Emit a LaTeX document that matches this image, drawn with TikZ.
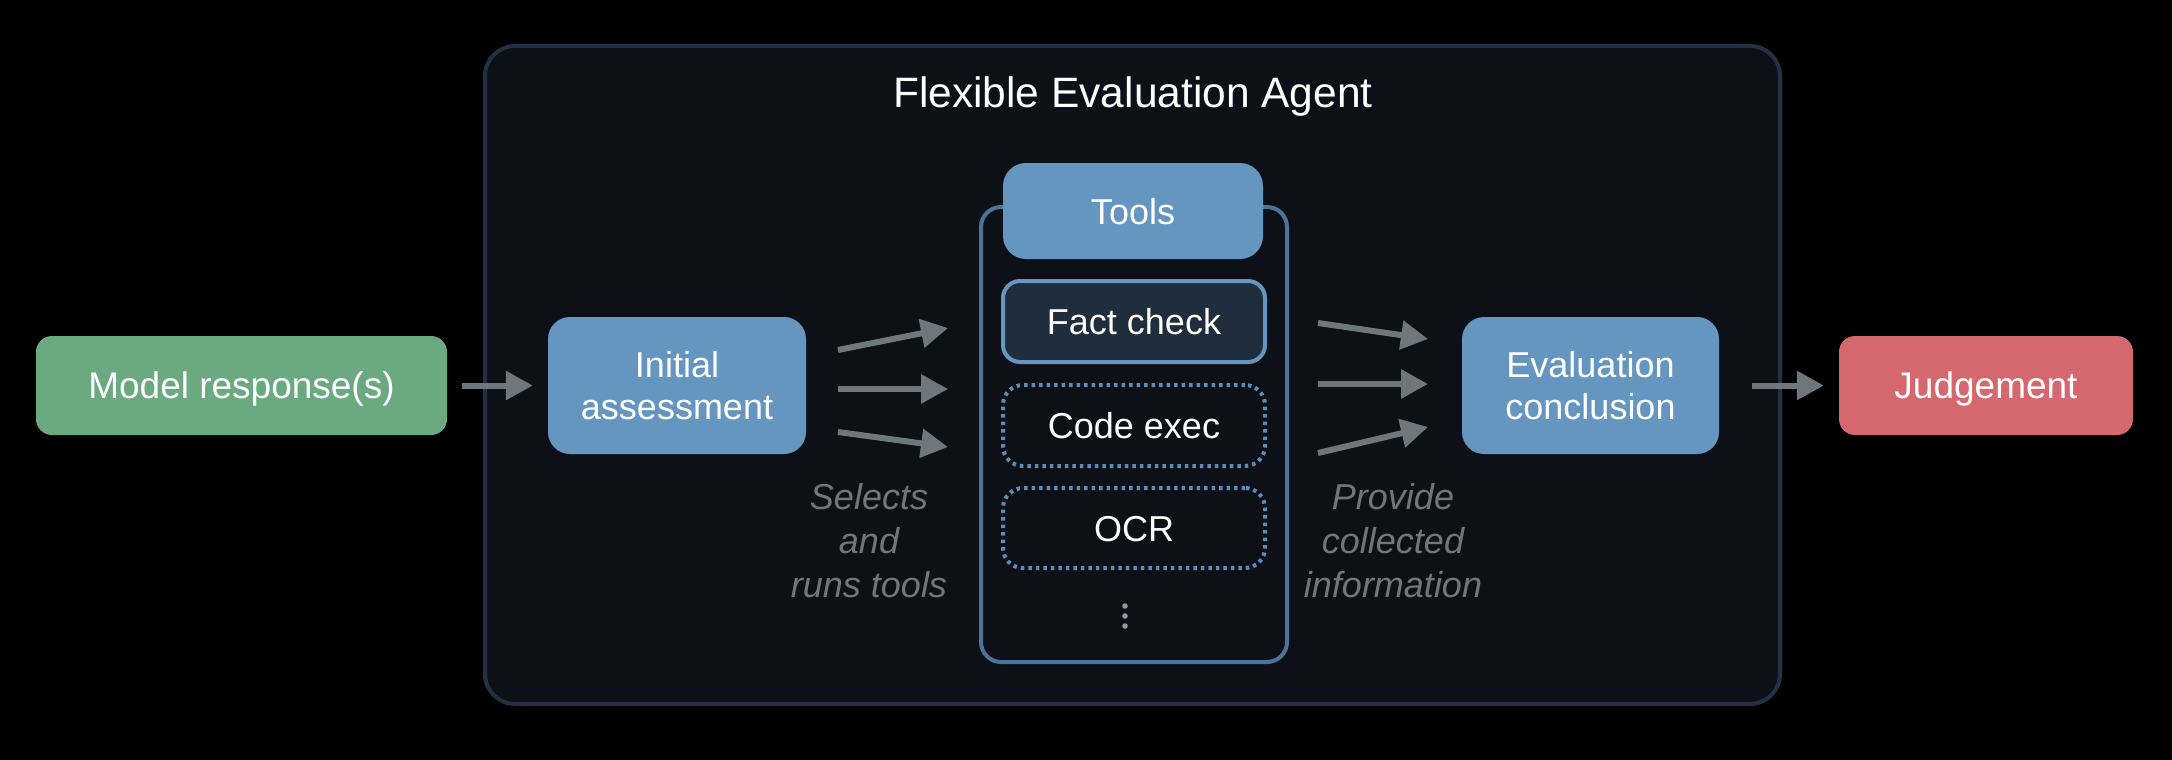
\documentclass[tikz,border=0pt]{standalone}
\usepackage{fontspec}
\setmainfont{Liberation Sans}
\usetikzlibrary{arrows.meta,calc}
\definecolor{bgc}{HTML}{000000}
\definecolor{panelfill}{HTML}{0D1117}
\definecolor{panelline}{HTML}{223243}
\definecolor{greenc}{HTML}{6BAA80}
\definecolor{bluec}{HTML}{6596C0}
\definecolor{redc}{HTML}{D4686E}
\definecolor{arrowc}{HTML}{6E767E}
\definecolor{contline}{HTML}{4C7398}
\definecolor{factfill}{HTML}{1F2D3D}
\definecolor{dotline}{HTML}{5B8DB8}
\definecolor{dotsc}{HTML}{8B9AA6}
\begin{document}
\begin{tikzpicture}[x=1pt,y=-1pt,
  box/.style={rounded corners=#1, inner sep=0pt, align=center, text=white, font=\fontsize{36}{42}\selectfont},
  oneline/.style={text height=26pt, text depth=0pt},
  arr/.style={line width=6pt, arrowc, -{Triangle[length=27pt,width=28pt]}},
  lbl/.style={align=center, text=arrowc, font=\fontsize{36}{44}\selectfont\itshape, inner sep=0pt}
]
\fill[bgc] (0,0) rectangle (2172,760);
\useasboundingbox (0,0) rectangle (2172,760);

% outer panel
\node[rounded corners=30pt, draw=panelline, line width=4pt, fill=panelfill,
  minimum width=1295pt, minimum height=658pt] (agent) at (1132.5,375) {};
\node[text=white, font=\fontsize{42.5}{48}\selectfont, inner sep=0pt, text height=30pt, text depth=0pt] (title) at (1133,92) {Flexible Evaluation Agent};

% outside boxes
\node[box=16pt, oneline, fill=greenc, minimum width=411pt, minimum height=99pt, font=\fontsize{37}{42}\selectfont] (model) at (241.5,385.5) {Model response(s)};
\node[box=16pt, oneline, fill=redc, minimum width=294pt, minimum height=99pt, font=\fontsize{37}{42}\selectfont] (judge) at (1986,385.5) {Judgement};

% inner boxes
\node[box=22pt, fill=bluec, minimum width=258pt, minimum height=137pt] (initial) at (677,385.5) {Initial\\assessment};
\node[box=22pt, fill=bluec, minimum width=257pt, minimum height=137pt] (eval) at (1590.5,385.5) {Evaluation\\conclusion};

% tools container
\node[rounded corners=20pt, draw=contline, line width=4pt, minimum width=306pt, minimum height=455pt] (cont) at (1134,434.5) {};
\node[box=23pt, oneline, fill=bluec, minimum width=260pt, minimum height=96pt] (tools) at (1133,211) {Tools};
\node[box=17pt, oneline, fill=factfill, draw=bluec, line width=4pt, minimum width=262pt, minimum height=81pt] (fact) at (1134,321.5) {Fact check};
\node[box=20pt, oneline, draw=dotline, line width=4pt, dash pattern=on 3.5pt off 4pt, minimum width=262pt, minimum height=81pt] (code) at (1134,425.5) {Code exec};
\node[box=20pt, oneline, draw=dotline, line width=4pt, dash pattern=on 3.5pt off 4pt, minimum width=262pt, minimum height=80pt] (ocr) at (1134,528) {OCR};
\foreach \yy in {606,616,626} \fill[dotsc] (1125,\yy) circle (2.8pt);

% arrows
\draw[arr, shorten <=15pt, shorten >=15pt] (model) -- (initial);
\draw[arr, shorten <=33pt, shorten >=15pt] (eval) -- (judge);

\coordinate (l1s) at (838,350); \coordinate (l1e) at (948,328);
\coordinate (l2s) at (838,389); \coordinate (l2e) at (948,389);
\coordinate (l3s) at (838,432); \coordinate (l3e) at (948,447);
\draw[arr] (l1s) -- (l1e);
\draw[arr] (l2s) -- (l2e);
\draw[arr] (l3s) -- (l3e);

\coordinate (r1s) at (1318,323); \coordinate (r1e) at (1428,339);
\coordinate (r2s) at (1318,384); \coordinate (r2e) at (1428,384);
\coordinate (r3s) at (1318,453); \coordinate (r3e) at (1428,427);
\draw[arr] (r1s) -- (r1e);
\draw[arr] (r2s) -- (r2e);
\draw[arr] (r3s) -- (r3e);

% labels
\node[lbl, anchor=north] (sel) at (869,483) {Selects\\and\\runs tools};
\node[lbl, anchor=north] (prov) at (1393,483) {Provide\\collected\\information};
\end{tikzpicture}
\end{document}
